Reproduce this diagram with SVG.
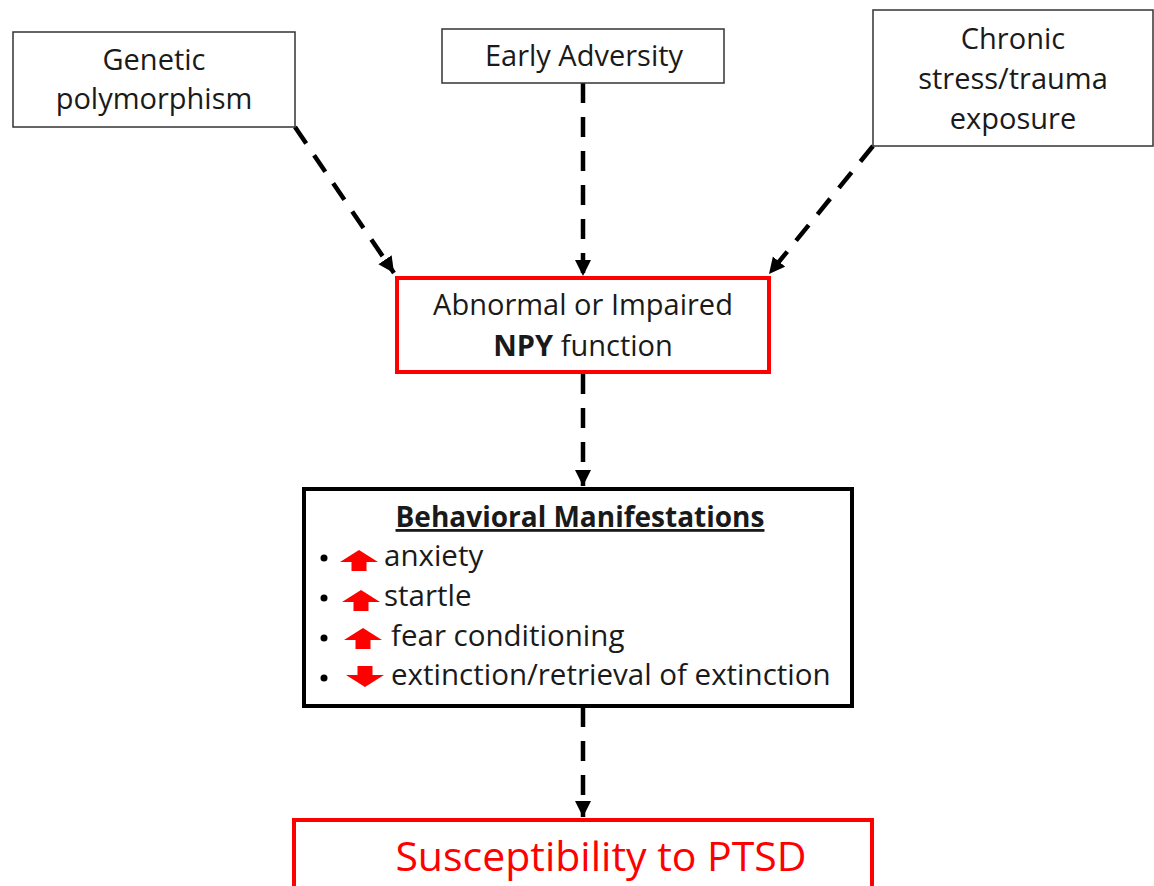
<svg xmlns="http://www.w3.org/2000/svg" width="1154" height="886" viewBox="0 0 1154 886">
<defs>
<style>
text{font-family:"Open Sans","Liberation Sans",sans-serif;fill:#1a1a1a;text-anchor:middle}
.t{font-size:29px}
.box{fill:#fff;stroke:#333;stroke-width:1.5}
.red{fill:#fff;stroke:#f00;stroke-width:4}
.blk{fill:#fff;stroke:#000;stroke-width:4}
.c{fill:none;stroke:#000;stroke-width:4.5;stroke-dasharray:20 14}
.item{font-size:29.5px;text-anchor:start}
.up{fill:#f00}
</style>
<marker id="ah" markerUnits="userSpaceOnUse" markerWidth="18" markerHeight="18" refX="16" refY="8" orient="auto">
<path d="M0,0 L16,8 L0,16 z" fill="#000"/>
</marker>
</defs>
<rect width="1154" height="886" fill="#fff"/>
<g id="connectors">
<line class="c" x1="295" y1="127" x2="394" y2="273" marker-end="url(#ah)"/>
<line class="c" x1="583" y1="83" x2="583" y2="276" marker-end="url(#ah)"/>
<line class="c" x1="873" y1="146" x2="769" y2="274" marker-end="url(#ah)"/>
<line class="c" x1="583" y1="374" x2="583" y2="486" marker-end="url(#ah)"/>
<line class="c" x1="583" y1="707" x2="583" y2="817" marker-end="url(#ah)"/>
</g>
<g id="genetic">
<rect class="box" x="13" y="32" width="282" height="95"/>
<text class="t" x="154" y="70">Genetic</text>
<text class="t" x="154" y="109">polymorphism</text>
</g>
<g id="early">
<rect class="box" x="442" y="29" width="282" height="54"/>
<text class="t" x="584" y="66">Early Adversity</text>
</g>
<g id="chronic">
<rect class="box" x="873" y="10" width="280" height="136"/>
<text class="t" x="1013" y="49">Chronic</text>
<text class="t" x="1013" y="89">stress/trauma</text>
<text class="t" x="1013" y="129">exposure</text>
</g>
<g id="npy">
<rect class="red" x="397" y="278" width="372" height="94"/>
<text class="t" x="583" y="315">Abnormal or Impaired</text>
<text class="t" x="583" y="356"><tspan font-weight="bold">NPY</tspan> function</text>
</g>
<g id="behavioral">
<rect class="blk" x="304" y="489" width="548" height="217"/>
<text x="580" y="527" font-size="28" font-weight="bold" text-decoration="underline">Behavioral Manifestations</text>
<circle cx="324" cy="558" r="3.5" fill="#000"/>
<circle cx="324" cy="598" r="3.5" fill="#000"/>
<circle cx="324" cy="638" r="3.5" fill="#000"/>
<circle cx="324" cy="678" r="3.5" fill="#000"/>
<path class="up" d="M359,550 L378,562 L366.5,562 L366.5,571 L351.5,571 L351.5,562 L340,562 z"/>
<path class="up" d="M361,590 L380,602 L368.5,602 L368.5,611 L353.5,611 L353.5,602 L342,602 z"/>
<path class="up" d="M363,628 L382,640 L370.5,640 L370.5,649 L355.5,649 L355.5,640 L344,640 z"/>
<path class="up" d="M365,687 L384,675 L372.5,675 L372.5,666 L357.5,666 L357.5,675 L346,675 z"/>
<text class="item" x="384" y="566">anxiety</text>
<text class="item" x="384" y="606">startle</text>
<text class="item" x="391" y="646">fear conditioning</text>
<text class="item" x="391" y="685">extinction/retrieval of extinction</text>
</g>
<g id="ptsd">
<rect class="red" x="294" y="820" width="578" height="80"/>
<text x="601" y="871" font-size="41" style="fill:#f00">Susceptibility to PTSD</text>
</g>
</svg>
